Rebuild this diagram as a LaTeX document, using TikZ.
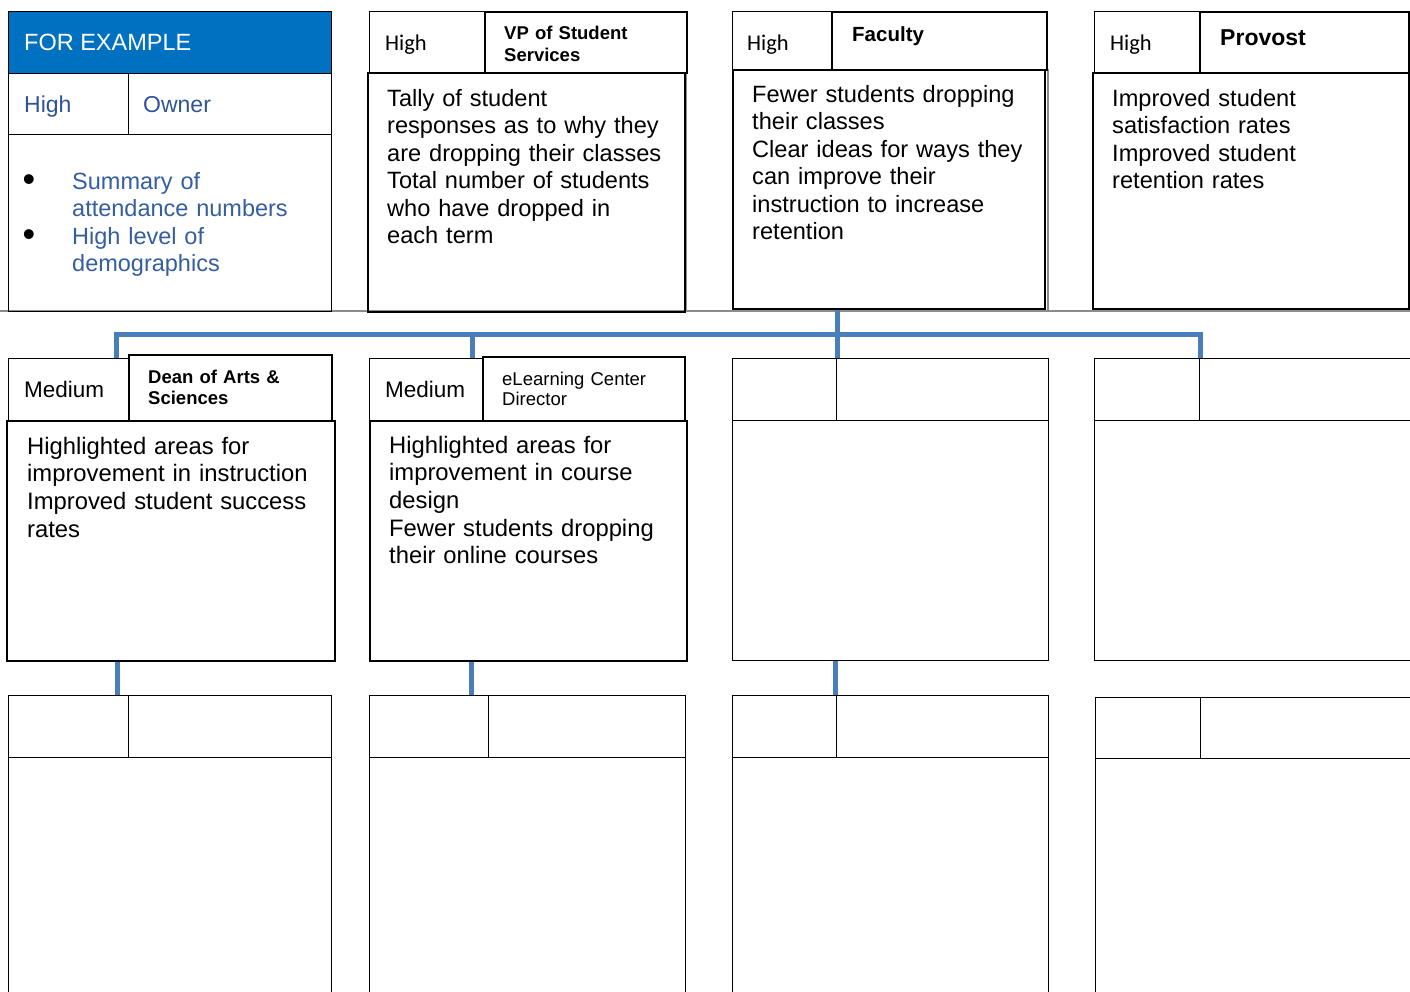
\documentclass[tikz,border=0pt]{standalone}
\usepackage{fontspec}
\setmainfont{Liberation Sans}
\newfontfamily\calib{Carlito}
\usetikzlibrary{calc}
\definecolor{hdrblue}{RGB}{0,112,192}
\definecolor{txtblue}{RGB}{47,84,150}
\definecolor{bultblue}{RGB}{52,94,160}
\definecolor{conblue}{RGB}{74,126,187}
\definecolor{gridgray}{RGB}{140,140,140}
\begin{document}
\begin{tikzpicture}[x=1pt,y=-1pt,
  cellA/.style={draw=black, line width=1.3pt, rectangle, inner sep=0pt, anchor=north west},
  cellB/.style={cellA, line width=2.4pt},
  conn/.style={draw=conblue, line width=5pt},
  gridln/.style={draw=gridgray, line width=1.2pt},
  bodytxt/.style={anchor=north west, inner sep=0pt, text width=320pt, align=left, font={\fontsize{23.6}{27.5}\selectfont}},
  bultxt/.style={anchor=north west, inner sep=0pt, text width=260pt, align=left, text=bultblue, font={\fontsize{23.5}{27}\selectfont}},
  smalltxt/.style={anchor=north west, inner sep=0pt, text width=190pt, align=left, font={\fontsize{18.5}{21.5}\selectfont}},
  prio/.style={anchor=base west, inner sep=0pt, font={\calib\fontsize{22.5}{26}\selectfont}},
  medtxt/.style={anchor=base west, inner sep=0pt, font={\fontsize{22.5}{26}\selectfont}},
  bulsym/.style={anchor=center, inner sep=0pt, font={\fontsize{36}{40}\selectfont}},
]
\useasboundingbox (0,0) rectangle (1410,992);
\fill[white] (0,0) rectangle (1410,992);

% ---------- grid lines of the top row ----------
\draw[gridln] (0,311) -- (1410,311);
\draw[gridln] (686,72) -- (686,311);
\draw[gridln] (1048,69) -- (1048,311);

% ---------- row 1 ----------
\node[cellA, minimum width=323pt, minimum height=300pt] (ex) at (8,11) {};
\node[cellA, fill=hdrblue, minimum width=323pt, minimum height=62pt] (exhead) at (8,11) {};
\node[cellA, minimum width=120pt, minimum height=61pt] (exprio) at (8,73) {};
\node[cellA, minimum width=203pt, minimum height=61pt] (exown) at (128,73) {};

\node[cellA, minimum width=115pt, minimum height=62pt] (p2) at (369,11) {};
\node[cellB, minimum width=202pt, minimum height=61pt] (o2) at (484,11) {};
\node[cellB, minimum width=317pt, minimum height=239pt] (b2) at (367,72) {};

\node[cellA, minimum width=99pt, minimum height=58pt] (p3) at (732,11) {};
\node[cellB, minimum width=215pt, minimum height=58pt] (o3) at (831,11) {};
\node[cellB, minimum width=312pt, minimum height=239pt] (b3) at (732,69) {};

\node[cellA, minimum width=105pt, minimum height=62pt] (p4) at (1094,11) {};
\node[cellB, minimum width=209pt, minimum height=61pt] (o4) at (1199,11) {};
\node[cellB, minimum width=316pt, minimum height=236pt] (b4) at (1092,72) {};

% ---------- row 2 ----------
\node[cellA, minimum width=120pt, minimum height=62pt] (q1) at (8,358) {};
\node[cellB, minimum width=203pt, minimum height=66pt] (o5) at (128,354) {};
\node[cellB, minimum width=328pt, minimum height=240pt] (b5) at (6,420) {};

\node[cellA, minimum width=113pt, minimum height=62pt] (q2) at (369,358) {};
\node[cellB, minimum width=202pt, minimum height=64pt] (o6) at (482,356) {};
\node[cellB, minimum width=317pt, minimum height=240pt] (b6) at (369,420) {};

\node[cellA, minimum width=104pt, minimum height=62pt] (q3) at (732,358) {};
\node[cellA, minimum width=212pt, minimum height=62pt] (o7) at (836,358) {};
\node[cellA, minimum width=316pt, minimum height=240pt] (b7) at (732,420) {};

\node[cellA, minimum width=105pt, minimum height=62pt] (q4) at (1094,358) {};
\node[cellA, minimum width=211pt, minimum height=62pt] (o8) at (1199,358) {};
\node[cellA, minimum width=316pt, minimum height=240pt] (b8) at (1094,420) {};

% ---------- row 3 ----------
\node[cellA, minimum width=120pt, minimum height=62pt] (s1) at (8,695) {};
\node[cellA, minimum width=203pt, minimum height=62pt] (t1) at (128,695) {};
\node[cellA, minimum width=323pt, minimum height=260pt] (u1) at (8,757) {};

\node[cellA, minimum width=119pt, minimum height=62pt] (s2) at (369,695) {};
\node[cellA, minimum width=197pt, minimum height=62pt] (t2) at (488,695) {};
\node[cellA, minimum width=316pt, minimum height=260pt] (u2) at (369,757) {};

\node[cellA, minimum width=104pt, minimum height=62pt] (s3) at (732,695) {};
\node[cellA, minimum width=212pt, minimum height=62pt] (t3) at (836,695) {};
\node[cellA, minimum width=316pt, minimum height=260pt] (u3) at (732,757) {};

\node[cellA, minimum width=105pt, minimum height=61pt] (s4) at (1095,697) {};
\node[cellA, minimum width=210pt, minimum height=61pt] (t4) at (1200,697) {};
\node[cellA, minimum width=315pt, minimum height=260pt] (u4) at (1095,758) {};

% ---------- connectors ----------
\coordinate (j1) at (116,334);
\coordinate (j2) at (472,334);
\coordinate (j4) at (1200,334);
\coordinate (k1) at (117,0);
\coordinate (k2) at (471,0);
\coordinate (k3) at (835,0);
\draw[conn] (q1.north -| j1) -- (j1) -- (j4) -- (q4.north -| j4);
\draw[conn] (j2) -- (q2.north -| j2);
\draw[conn] (b3.south -| q3.north east) -- (q3.north east);
\draw[conn] (b5.south -| k1) -- (s1.north -| k1);
\draw[conn] (b6.south -| k2) -- (s2.north -| k2);
\draw[conn] (b7.south -| k3) -- (s3.north -| k3);

% ---------- texts, row 1 ----------
\node[anchor=base west, inner sep=0pt, text=white, font={\fontsize{23.5}{27}\selectfont}] (tex) at (24,51) {FOR EXAMPLE};
\node[anchor=base west, inner sep=0pt, text=txtblue, font={\fontsize{23}{27}\selectfont}] (thigh) at (24,113) {High};
\node[anchor=base west, inner sep=0pt, text=txtblue, font={\fontsize{23}{27}\selectfont}] (towner) at (143,113) {Owner};
\node[bulsym] (bul1) at (29,183) {•};
\node[bulsym] (bul2) at (29,238) {•};
\node[bultxt] (tb1) at (72,170.6) {\strut Summary of\\attendance numbers};
\node[bultxt] (tb2) at (72,225.1) {\strut High level of\\demographics};

\node[prio] (h2) at (385,51) {High};
\node[smalltxt, font={\bfseries\fontsize{18.5}{21.5}\selectfont}] (n2) at (504,24.5) {\strut VP of Student\\Services};
\node[bodytxt] (d2) at (387,86.75) {\strut Tally of student\\responses as to why they\\are dropping their classes\\Total number of students\\who have dropped in\\each term};

\node[prio] (h3) at (747,51) {High};
\node[anchor=base west, inner sep=0pt, font={\bfseries\fontsize{20.5}{24}\selectfont}] (n3) at (852,42) {Faculty};
\node[bodytxt] (d3) at (752,82.75) {\strut Fewer students dropping\\their classes\\Clear ideas for ways they\\can improve their\\instruction to increase\\retention};

\node[prio] (h4) at (1110,51) {High};
\node[anchor=base west, inner sep=0pt, font={\bfseries\fontsize{23}{27}\selectfont}] (n4) at (1220,45.5) {Provost};
\node[bodytxt] (d4) at (1112,86.75) {\strut Improved student\\satisfaction rates\\Improved student\\retention rates};

% ---------- texts, row 2 ----------
\node[medtxt] (m1) at (24,397) {Medium};
\node[smalltxt, font={\bfseries\fontsize{18.5}{21}\selectfont}] (n5) at (148,368.3) {\strut Dean of Arts \&\\Sciences};
\node[bodytxt, font={\fontsize{23.8}{27.6}\selectfont}] (d5) at (27,434.7) {\strut Highlighted areas for\\improvement in instruction\\Improved student success\\rates};

\node[medtxt] (m2) at (385,397) {Medium};
\node[smalltxt, font={\fontsize{18.5}{20.5}\selectfont}] (n6) at (502,370.6) {\strut eLearning Center\\Director};
\node[bodytxt, font={\fontsize{23.8}{27.6}\selectfont}] (d6) at (389,433.7) {\strut Highlighted areas for\\improvement in course\\design\\Fewer students dropping\\their online courses};
\end{tikzpicture}
\end{document}
